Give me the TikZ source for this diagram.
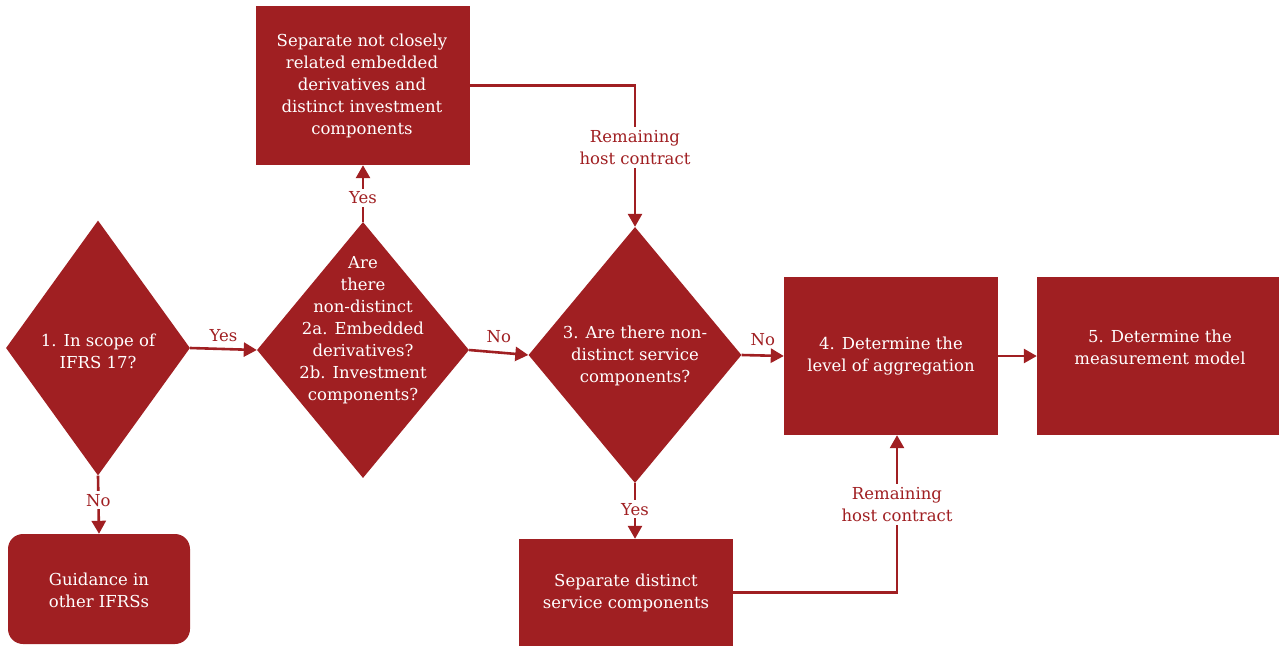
\documentclass[tikz,border=0pt]{standalone}
\usepackage{fontspec}
\setmainfont{DejaVu Serif}
\usetikzlibrary{shapes.geometric,arrows.meta,calc}
\definecolor{ifrsred}{RGB}{160,31,34}
\begin{document}
\begin{tikzpicture}[x=1pt,y=-1pt,
  every node/.style={font=\fontsize{16.5}{22}\selectfont},
  shapebox/.style={fill=ifrsred,draw=none,inner sep=0pt},
  dia/.style={shapebox,diamond,aspect=0.8},
  rect/.style={shapebox,rectangle},
  boxtxt/.style={text=white,align=center,inner sep=0pt},
  lbl/.style={text=ifrsred,align=center,inner sep=2pt},
  cut/.style={lbl,fill=white,inner sep=3pt},
  conn/.style={draw=ifrsred,line width=2.6pt,-{Triangle[length=13pt,width=14pt]}}]
\useasboundingbox (0,0) rectangle (1279,646);

% decision diamonds
\node[dia,minimum width=184pt,minimum height=255pt] (d1) at (98,348) {};
\node[boxtxt] (d1t) at (98,351) {1. In scope of\\IFRS 17?};
\node[dia,minimum width=212pt,minimum height=256pt] (d2) at (363,350) {};
\node[boxtxt] (d2t) at (363,330) {Are\\there\\non-distinct\\2a. Embedded\\derivatives?\\2b. Investment\\components?};
\node[dia,minimum width=213pt,minimum height=256pt] (d3) at (635,355) {};
\node[boxtxt] (d3t) at (635,356) {3. Are there non-\\distinct service\\components?};

% process boxes
\node[rect,minimum width=214pt,minimum height=159pt] (sepa) at (363,85.5) {};
\node[boxtxt] (sepat) at (362,86) {Separate not closely\\related embedded\\derivatives and\\distinct investment\\components};
\node[rect,minimum width=214pt,minimum height=158pt] (b4) at (891,356) {};
\node[boxtxt] (b4t) at (891,356) {4. Determine the\\level of aggregation};
\node[rect,minimum width=242pt,minimum height=158pt] (b5) at (1158,356) {};
\node[boxtxt] (b5t) at (1160,347) {5. Determine the\\measurement model};
\node[rect,minimum width=214pt,minimum height=107pt] (seps) at (626,592.5) {};
\node[boxtxt] (sepst) at (626,593) {Separate distinct\\service components};
\node[rect,rounded corners=15pt,minimum width=182pt,minimum height=110pt] (guid) at (99,589) {};
\node[boxtxt] (guidt) at (99,590) {Guidance in\\other IFRSs};

% connectors
\draw[conn] (d1.east) -- node[lbl,above=4pt] (y1) {Yes} (d2.west);
\draw[conn] (d1.south) -- node[cut,pos=0.42] (n1) {No} (guid.north);
\draw[conn] (d2.north) -- node[cut,pos=0.42] (y2) {Yes} (sepa.south);
\draw[conn] (d2.east) -- node[lbl,above=6pt] (n2) {No} (d3.west);
\draw[conn] (sepa.east) -| node[cut,pos=0.72] (r1) {Remaining\\host contract} (d3.north);
\draw[conn] (d3.east) -- node[lbl,above=6pt] (n3) {No} (b4.west);
\draw[conn] (d3.south) -- node[cut,pos=0.47] (y3) {Yes} (d3.south |- seps.north);
\draw[conn] (seps.east) -| node[cut,pos=0.78] (r2) {Remaining\\host contract} ([xshift=6pt]b4.south);
\draw[conn] (b4.east) -- (b5.west);
\end{tikzpicture}
\end{document}
